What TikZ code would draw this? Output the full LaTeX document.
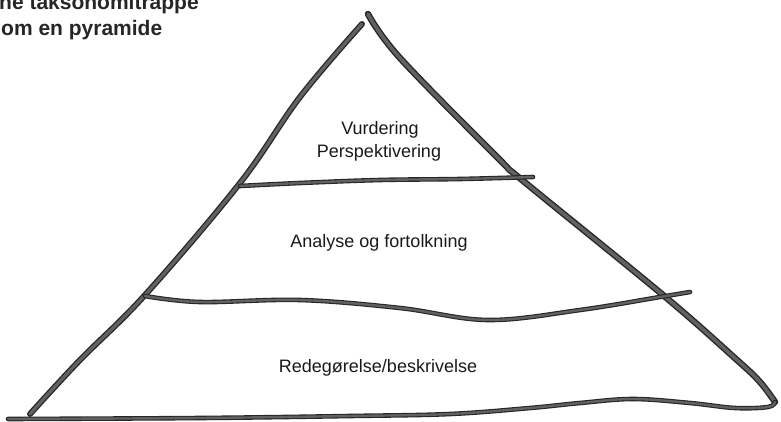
\documentclass[tikz,border=0pt]{standalone}
\usepackage{fontspec}
\setmainfont{Liberation Sans}
\usetikzlibrary{positioning}

\begin{document}
\begin{tikzpicture}[x=1pt,y=-1pt,
        pen/.style={draw=black!85, line width=1.3pt, double=black!62, double distance=3.3pt, line cap=round, line join=round},
        thinpen/.style={pen, line width=1.1pt, double distance=2.4pt},
        level/.style={font=\fontsize{18}{22}\selectfont, text=black!90, inner sep=0pt, anchor=base},
        heading/.style={font=\fontsize{21}{24}\selectfont\bfseries, text=black!85, inner sep=0pt, anchor=base west}
    ]
    \clip (0,0) rectangle (781,421);

    \node[heading] (head1) at (-1,9) {ne taksonomitrappe};
    \node[heading] (head2) at (1,35) {om en pyramide};

    \draw[pen] plot[smooth, tension=0.6] coordinates {(362,24) (300,97) (240,183) (145,295) (80,360) (30,414)};
    \draw[pen, line width=1.4pt, double distance=3.6pt] plot[smooth, tension=0.6] coordinates {(368,14) (400,58) (500,160) (522,180) (663,295) (737,360) (760,382) (775,402)};

    \draw[thinpen] plot[smooth, tension=0.6] coordinates {(240,186) (300,183) (380,180) (460,179) (533,177)};
    \draw[thinpen] plot[smooth, tension=0.6] coordinates {(145,296) (200,302) (300,300) (400,308) (488,320) (580,310) (660,297) (690,292)};
    \draw[thinpen] plot[smooth, tension=0.6] coordinates {(8,419) (200,418) (350,416) (450,414) (530,408) (580,403) (633,399) (690,403) (735,408) (768,407) (775,402)};

    \node[level] (vurdering) at (380,134) {Vurdering};
    \node[level] (perspektiv) at (379,157) {Perspektivering};
    \node[level] (analyse) at (379,247) {Analyse og fortolkning};
    \node[level] (redegoer) at (378,372) {Redegørelse/beskrivelse};
\end{tikzpicture}
\end{document}
